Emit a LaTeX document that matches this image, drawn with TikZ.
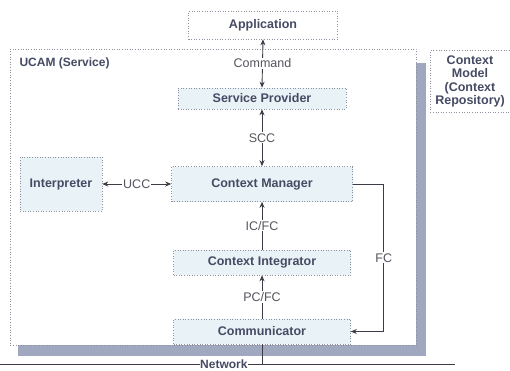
\documentclass[tikz,border=0pt]{standalone}
\usepackage{fontspec}
\setmainfont{Liberation Sans}
\usetikzlibrary{arrows.meta}
\definecolor{txt}{RGB}{70,75,100}
\definecolor{lbl}{RGB}{85,85,95}
\definecolor{boxfill}{RGB}{233,242,246}
\definecolor{border}{RGB}{140,145,160}
\definecolor{shadowc}{RGB}{160,168,192}
\definecolor{linec}{RGB}{60,60,70}
\tikzset{
  box/.style={draw=border, dotted, line width=0.6pt, fill=boxfill, inner sep=0pt,
    text=txt, font=\fontsize{12.5}{13}\selectfont\bfseries},
  wbox/.style={box, fill=white},
  conn/.style={draw=linec, line width=0.9pt, solid},
  tip/.style={-{Stealth[length=6pt,width=5pt]}},
  dtip/.style={{Stealth[length=6pt,width=5pt]}-{Stealth[length=6pt,width=5pt]}},
  lab/.style={fill=white, inner sep=1pt, text=lbl, font=\fontsize{12.5}{13}\selectfont},
}
\begin{document}
\begin{tikzpicture}[x=1pt,y=-1pt]
\useasboundingbox (0,0) rectangle (510,370);
% shadow and UCAM frame
\fill[shadowc] (18,63) rectangle (426,356);
\node[wbox, minimum width=406, minimum height=296, anchor=north west] (ucam) at (10,49) {};
\node[anchor=west, text=txt, font=\fontsize{12}{13}\selectfont\bfseries] (ucamlbl) at (16,63) {UCAM (Service)};
% nodes
\node[wbox, minimum width=149, minimum height=28] (app) at (263,25) {Application};
\node[box, minimum width=168, minimum height=21] (sp) at (262,98.5) {Service Provider};
\node[box, minimum width=181, minimum height=35] (cm) at (262,184) {Context Manager};
\node[box, minimum width=82, minimum height=54] (interp) at (61,184) {Interpreter};
\node[box, minimum width=177, minimum height=25] (ci) at (262,262.5) {Context Integrator};
\node[box, minimum width=177, minimum height=25] (comm) at (262,331.5) {Communicator};
\node[wbox, minimum width=80, minimum height=62, anchor=north west, align=center] (cmodel) at (430,50) {};
\node[text=txt, align=center, font=\fontsize{12.5}{13.3}\selectfont\bfseries] (cmtext) at (470,81.5) {Context\\Model\\(Context\\Repository)};
% connectors
\draw[conn, dtip] (app.south) -- (sp.north) node[lab, midway] {Command};
\draw[conn, dtip] (sp.south) -- (cm.north) node[lab, midway] {SCC};
\draw[conn, dtip] (interp.east) -- (cm.west) node[lab, midway] {UCC};
\draw[conn, tip] (ci.north) -- (cm.south) node[lab, midway] {IC/FC};
\draw[conn, tip] (comm.north) -- (ci.south) node[lab, midway] {PC/FC};
\draw[conn, tip] (cm.east) -- ++(31,0) |- (comm.east) node[lab, pos=0.25] {FC};
% network
\coordinate (nl) at (0,364);
\coordinate (nr) at (455,364);
\draw[conn] (comm.south) -- (comm.south |- nl);
\draw[conn] (nl) -- (nr) node[pos=0.492, fill=white, inner sep=0pt, text=txt, font=\fontsize{12}{12}\selectfont\bfseries] (net) {Network};
\end{tikzpicture}
\end{document}
